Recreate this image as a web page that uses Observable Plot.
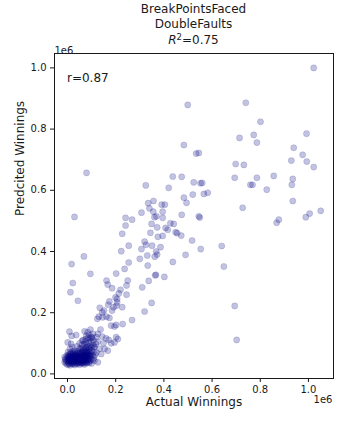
<!DOCTYPE html>
<html>
<head>
<meta charset="utf-8">
<script src="https://cdn.jsdelivr.net/npm/d3@7"></script>
<script src="https://cdn.jsdelivr.net/npm/@observablehq/plot@0.6"></script>
<style>
  html, body { margin: 0; padding: 0; background: white; }
  #chart svg { display: block; }
</style>
</head>
<body>
<div id="chart"></div>
<script>
// Title / labels
const titleLines = ["BreakPointsFaced", "DoubleFaults"];
const r2Text = "0.75";
const rText = "r=0.87";
const xLabel = "Actual Winnings";
const yLabel = "Predcited Winnings";
const offsetText = "1e6";

// Ticks (units of 1e6)
const xTicks = [0.0, 0.2, 0.4, 0.6, 0.8, 1.0];
const yTicks = [0.0, 0.2, 0.4, 0.6, 0.8, 1.0];

// Points: [actual winnings (1e6), predicted winnings (1e6)]
const pointsUpper = [
  [1.022,1.000],[0.499,0.879],[0.740,0.886],[0.801,0.824],[0.992,0.785],[0.714,0.771],
  [0.773,0.781],[0.786,0.756],[0.483,0.748],[0.534,0.720],[0.545,0.722],[0.939,0.739],
  [0.929,0.697],[0.976,0.716],[0.993,0.694],[1.022,0.676],[0.698,0.686],[0.732,0.683],
  [0.437,0.645],[0.474,0.644],[0.694,0.641],[0.786,0.641],[0.856,0.647],[0.935,0.637],
  [0.931,0.618],[0.524,0.626],[0.552,0.623],[0.559,0.624],[0.759,0.618],[0.768,0.618],
  [0.827,0.602],[0.483,0.576],[0.494,0.559],[0.520,0.586],[0.566,0.588],[0.582,0.592],
  [0.935,0.565],[0.727,0.543],[0.474,0.520],[0.545,0.515],[0.549,0.511],[1.051,0.533],
  [1.005,0.524],[0.989,0.512],[0.877,0.504],[0.868,0.494],[0.441,0.490],[0.449,0.463],
  [0.455,0.460],[0.472,0.452],[0.517,0.436],[0.553,0.408],[0.640,0.418],[0.490,0.389],
  [0.437,0.366],[0.649,0.351],[0.694,0.222],[0.702,0.111]
];
const pointsMiddle = [
  [0.325,0.616],[0.420,0.608],[0.335,0.558],[0.357,0.565],[0.391,0.553],[0.404,0.553],
  [0.340,0.541],[0.356,0.530],[0.307,0.527],[0.395,0.530],[0.361,0.512],[0.369,0.515],
  [0.395,0.510],[0.241,0.510],[0.268,0.504],[0.241,0.485],[0.349,0.490],[0.372,0.479],
  [0.407,0.477],[0.427,0.492],[0.416,0.471],[0.344,0.461],[0.227,0.458],[0.375,0.448],
  [0.395,0.451],[0.320,0.432],[0.326,0.422],[0.254,0.419],[0.223,0.401],[0.307,0.408],
  [0.351,0.419],[0.386,0.414],[0.368,0.400],[0.372,0.390],[0.362,0.383],[0.331,0.387],
  [0.300,0.376],[0.254,0.364],[0.237,0.343],[0.333,0.354],[0.202,0.328],[0.364,0.322],
  [0.367,0.324],[0.402,0.317],[0.337,0.304],[0.162,0.305],[0.167,0.292],[0.250,0.305],
  [0.245,0.289],[0.185,0.280],[0.310,0.283],[0.220,0.275],[0.213,0.263],[0.245,0.259],
  [0.199,0.250],[0.206,0.245],[0.174,0.237],[0.169,0.226],[0.206,0.234],[0.203,0.223],
  [0.227,0.218],[0.191,0.218],[0.185,0.207],[0.349,0.232],[0.320,0.204],[0.151,0.207],
  [0.144,0.201],[0.134,0.216],[0.162,0.187],[0.174,0.183],[0.130,0.187],[0.124,0.180],
  [0.146,0.185],[0.268,0.176]
];
const pointsLeft = [
  [0.017,0.359],[0.068,0.384],[0.095,0.327],[0.022,0.297],[0.012,0.267],[0.043,0.239],
  [0.079,0.657],[0.029,0.513]
];
const pointsLower = [
  [0.181,0.158],[0.195,0.155],[0.202,0.160],[0.229,0.163],[0.008,0.138],[0.036,0.127],
  [0.071,0.139],[0.084,0.136],[0.091,0.127],[0.105,0.131],[0.119,0.120],[0.126,0.131],
  [0.144,0.122],[0.160,0.116],[0.171,0.111],[0.202,0.120],[0.209,0.114],[0.195,0.103],
  [0.149,0.100],[0.181,0.100],[0.001,0.103],[0.015,0.098],[0.112,0.087],[0.133,0.082],
  [0.154,0.082],[0.167,0.076],[0.140,0.065],[0.112,0.043],[0.126,0.038],[0.029,0.076],
  [0.050,0.082],[0.063,0.076],[0.078,0.087],[0.095,0.145],[0.137,0.145],[0.017,0.124],
  [0.061,0.109],[0.075,0.114],[0.102,0.118]
];
const pointsCluster = [
  [0.000,0.030],[0.010,0.028],[0.020,0.032],[0.030,0.029],[0.040,0.033],[0.050,0.030],
  [0.060,0.034],[0.070,0.031],[0.080,0.035],[0.090,0.036],[0.005,0.036],[0.015,0.034],
  [0.025,0.037],[0.035,0.035],[0.045,0.038],[0.055,0.036],[0.065,0.038],[0.075,0.040],
  [0.100,0.034],
  [-0.005,0.042],[0.002,0.040],[0.008,0.045],[0.012,0.041],[0.018,0.044],[0.022,0.040],
  [0.028,0.046],[0.033,0.042],[0.038,0.044],[0.043,0.040],[0.048,0.046],[0.053,0.043],
  [0.058,0.041],[0.063,0.045],[0.068,0.042],[0.073,0.046],[0.078,0.043],[0.085,0.045],
  [0.092,0.042],[0.105,0.046],
  [-0.008,0.050],[0.000,0.052],[0.006,0.049],[0.011,0.054],[0.016,0.050],[0.021,0.053],
  [0.026,0.049],[0.031,0.055],[0.036,0.051],[0.041,0.054],[0.046,0.050],[0.051,0.055],
  [0.056,0.051],[0.061,0.054],[0.066,0.050],[0.071,0.055],[0.076,0.052],[0.082,0.056],
  [0.088,0.052],[0.095,0.055],[0.110,0.053],
  [-0.003,0.060],[0.004,0.062],[0.009,0.058],[0.014,0.063],[0.019,0.059],[0.024,0.064],
  [0.029,0.060],[0.034,0.063],[0.039,0.058],[0.044,0.062],[0.049,0.066],[0.054,0.060],
  [0.059,0.064],[0.064,0.059],[0.069,0.063],[0.074,0.067],[0.079,0.061],[0.084,0.065],
  [0.090,0.062],[0.097,0.066],[0.104,0.061],[0.115,0.063],
  [0.002,0.071],[0.012,0.069],[0.022,0.073],[0.032,0.070],[0.042,0.074],[0.052,0.071],
  [0.062,0.072],[0.067,0.077],[0.072,0.070],[0.077,0.075],[0.083,0.072],[0.088,0.078],
  [0.093,0.071],[0.100,0.075],[0.108,0.072],[0.120,0.070],
  [0.055,0.083],[0.065,0.086],[0.075,0.082],[0.085,0.088],[0.090,0.083],[0.095,0.092],
  [0.100,0.086],[0.105,0.095],[0.110,0.089],[0.118,0.098],[0.080,0.095],[0.070,0.098],
  [0.088,0.102],[0.098,0.106],[0.108,0.110],[0.092,0.115],[0.125,0.105],[0.040,0.090],
  [0.020,0.088],[0.010,0.082],[0.060,0.095],[0.075,0.105],[0.085,0.118],[0.065,0.110],
  [0.100,0.120],[0.050,0.100],[0.078,0.125]
];
const pointsCore = [
  [-0.012,0.038],[-0.010,0.046],[-0.012,0.055],[-0.006,0.034],[0.003,0.046],[0.007,0.032],
  [0.013,0.047],[0.017,0.038],[0.023,0.045],[0.027,0.033],[0.032,0.048],[0.037,0.039],
  [0.042,0.047],[0.047,0.035],[0.052,0.049],[0.057,0.038],[0.062,0.048],[0.067,0.035],
  [0.072,0.049],[0.077,0.037],[0.082,0.048],[0.087,0.040],[0.003,0.057],[0.008,0.053],
  [0.018,0.056],[0.028,0.052],[0.038,0.057],[0.048,0.053],[0.058,0.058],[0.068,0.056],
  [0.078,0.058],[0.086,0.059],[0.013,0.066],[0.027,0.067],[0.041,0.068],[0.057,0.068],
  [0.071,0.060],[0.081,0.068],[0.094,0.059],[0.098,0.048]
];

const data = [...pointsUpper, ...pointsMiddle, ...pointsLeft, ...pointsLower, ...pointsCluster, ...pointsCore]
  .map(([actual, predicted]) => ({actual, predicted}));

const W = 357, H = 425;
const fmt = d3.format(".1f");
const ink = "#1a1a1a";

const plot = Plot.plot({
  width: W,
  height: H,
  marginLeft: 54,
  marginRight: 24,
  marginTop: 53,
  marginBottom: 47,
  style: {fontFamily: "'DejaVu Sans', sans-serif", fontSize: "10px", color: ink, background: "white"},
  x: {domain: [-0.054, 1.104]},
  y: {domain: [-0.015, 1.047]},
  marks: [
    Plot.dot(data, {
      x: "actual", y: "predicted", r: 3.1,
      fill: "navy", fillOpacity: 0.24,
      stroke: "navy", strokeOpacity: 0.14, strokeWidth: 0.9
    }),
    Plot.frame({stroke: ink, strokeWidth: 1}),
    Plot.axisX({ticks: xTicks, tickFormat: fmt, tickSize: 4, tickPadding: 3, label: null, fontSize: 10}),
    Plot.axisY({ticks: yTicks, tickFormat: fmt, tickSize: 4, tickPadding: 4, label: null, fontSize: 10}),
    Plot.text([xLabel], {frameAnchor: "bottom", dy: 27, fontSize: 12, text: d => d, fill: ink}),
    Plot.text([yLabel], {frameAnchor: "left", dx: -34, rotate: -90, fontSize: 12, text: d => d, fill: ink}),
    Plot.text([rText], {frameAnchor: "top-left", dx: 12.5, dy: 20.2, textAnchor: "start", fontSize: 12, text: d => d, fill: ink}),
    Plot.text([offsetText], {frameAnchor: "top-left", dx: 0, dy: -7, textAnchor: "start", fontSize: 10, text: d => d, fill: ink}),
    Plot.text([offsetText], {frameAnchor: "bottom-right", dx: -1, dy: 24.8, textAnchor: "end", fontSize: 10, text: d => d, fill: ink})
  ]
});

// Title (three lines, centred over the axes)
const svg = d3.select(plot);
const cx = (54 + (W - 24)) / 2;
const title = svg.append("g")
  .attr("font-family", "'DejaVu Sans', sans-serif")
  .attr("font-size", 12)
  .attr("fill", ink)
  .attr("text-anchor", "middle");
title.append("text").attr("x", cx).attr("y", 12.5).text(titleLines[0]);
title.append("text").attr("x", cx).attr("y", 27.5).text(titleLines[1]);
const t3 = title.append("text").attr("x", cx).attr("y", 44);
t3.append("tspan").attr("font-style", "italic").text("R");
t3.append("tspan").attr("font-size", 8.5).attr("dy", -4.5).text("2");
t3.append("tspan").attr("dy", 4.5).text("=" + r2Text);

document.getElementById("chart").append(plot);
</script>
</body>
</html>
